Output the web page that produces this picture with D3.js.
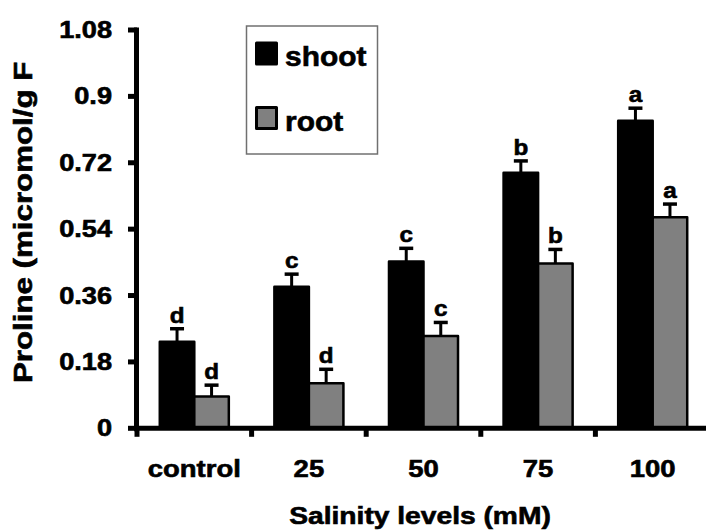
<!DOCTYPE html>
<html>
<head>
<meta charset="utf-8">
<script src="https://cdn.jsdelivr.net/npm/d3@7"></script>
<style>
  body { margin: 0; background: #fff; }
  svg { display: block; }
  text { font-family: "Liberation Sans", Arial, sans-serif; font-weight: bold; fill: #000; stroke: #000; stroke-width: 0.6px; }
</style>
</head>
<body>
<svg width="706" height="532"></svg>
<script>
// data
var categories = ["control", "25", "50", "75", "100"];
var series = ["shoot", "root"];
var shoot = [0.235, 0.384, 0.452, 0.693, 0.834];
var shootErr = [0.035, 0.034, 0.036, 0.032, 0.034];
var root = [0.086, 0.122, 0.250, 0.447, 0.572];
var rootErr = [0.031, 0.038, 0.037, 0.038, 0.036];
var shootLetters = ["d", "c", "c", "b", "a"];
var rootLetters = ["d", "d", "c", "b", "a"];
var yTicks = [0, 0.18, 0.36, 0.54, 0.72, 0.9, 1.08];
var yTickLabels = ["0", "0.18", "0.36", "0.54", "0.72", "0.9", "1.08"];

var svg = d3.select("svg");
var colors = { shoot: "#000000", root: "#808080" };

var y = d3.scaleLinear().domain([0, 1.08]).range([428.3, 30]);
var x = d3.scaleBand().domain(categories).range([137, 710]).padding(0);
var xSub = d3.scaleBand().domain(series).range([0, x.bandwidth()]).paddingInner(0).paddingOuter(0.66);

// the font in the picture is drawn wide, so stretch along the baseline
function wideText(g, tx, ty, str, size, anchor, rot, sx) {
  sx = sx || 1.2;
  return g.append("text")
    .attr("transform", "translate(" + tx + "," + ty + ")" + (rot ? " rotate(" + rot + ")" : "") + " scale(" + sx + ",1)")
    .attr("text-anchor", anchor || "start")
    .style("font-size", size + "px")
    .text(str);
}

// rows: one per bar
var rows = [];
categories.forEach(function (c, i) {
  rows.push({ cat: c, s: "shoot", v: shoot[i], e: shootErr[i], l: shootLetters[i] });
  rows.push({ cat: c, s: "root", v: root[i], e: rootErr[i], l: rootLetters[i] });
});

var g = svg.append("g");

// error bars (upward only)
rows.forEach(function (d) {
  var cx = x(d.cat) + xSub(d.s) + xSub.bandwidth() / 2;
  g.append("line").attr("x1", cx).attr("x2", cx)
    .attr("y1", y(d.v)).attr("y2", y(d.v + d.e))
    .attr("stroke", "#000").attr("stroke-width", 3);
  g.append("line").attr("x1", cx - 7).attr("x2", cx + 7)
    .attr("y1", y(d.v + d.e)).attr("y2", y(d.v + d.e))
    .attr("stroke", "#000").attr("stroke-width", 3.5);
  wideText(g, cx, y(d.v + d.e) - 6, d.l, 22, "middle", 0, 1.1);
});

// bars
g.selectAll("rect.bar").data(rows).enter().append("rect")
  .attr("class", "bar")
  .attr("x", d => x(d.cat) + xSub(d.s))
  .attr("width", xSub.bandwidth())
  .attr("y", d => y(d.v))
  .attr("height", d => y(0) - y(d.v))
  .attr("fill", d => colors[d.s])
  .attr("stroke", "#000")
  .attr("stroke-width", 2.5)
  .attr("stroke-linejoin", "round");

// y axis
g.append("line").attr("x1", 136.5).attr("x2", 136.5).attr("y1", y(1.08) - 2.5).attr("y2", y(0) + 3)
  .attr("stroke", "#000").attr("stroke-width", 5);
yTicks.forEach(function (t, i) {
  g.append("line").attr("x1", 128).attr("x2", 137).attr("y1", y(t)).attr("y2", y(t))
    .attr("stroke", "#000").attr("stroke-width", 5);
  wideText(g, 112, y(t) + 8, yTickLabels[i], 23, "end", 0, 1.18);
});

// x axis
g.append("line").attr("x1", 134).attr("x2", 706).attr("y1", y(0)).attr("y2", y(0))
  .attr("stroke", "#000").attr("stroke-width", 5);
categories.forEach(function (c) {
  g.append("line").attr("x1", x(c)).attr("x2", x(c)).attr("y1", y(0)).attr("y2", y(0) + 8.5)
    .attr("stroke", "#000").attr("stroke-width", 5);
  wideText(g, x(c) + x.bandwidth() / 2, 476.5, c, 23.5, "middle", 0, 1.17);
});

// axis titles
wideText(g, 420, 524, "Salinity levels (mM)", 23.5, "middle", 0, 1.2);
wideText(g, 32, 383, "Proline (micromol/g F", 26.5, "start", -90, 1.18);

// legend
var lg = svg.append("g");
lg.append("rect").attr("x", 246.5).attr("y", 26).attr("width", 131).attr("height", 128)
  .attr("fill", "#fff").attr("stroke", "#707070").attr("stroke-width", 1.5);
series.forEach(function (s, i) {
  var top = 42 + i * 64.5;
  lg.append("rect").attr("x", 256.5).attr("y", top + 1).attr("width", 20).attr("height", 21)
    .attr("fill", colors[s]).attr("stroke", "#000").attr("stroke-width", 3).attr("stroke-linejoin", "round");
  wideText(lg, 285, top + 24, s, 28.5, "start", 0, 1.05);
});
</script>
</body>
</html>
